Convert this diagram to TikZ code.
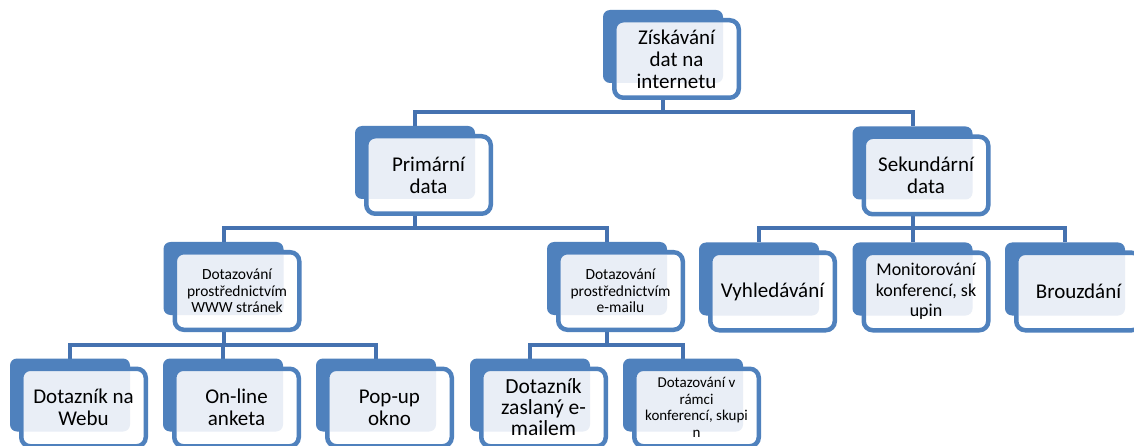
\documentclass[tikz,border=0pt]{standalone}
\usepackage{fontspec}
\setmainfont{Carlito}
\usepackage{tikz}
\usetikzlibrary{calc,backgrounds}
\definecolor{AzulCaja}{RGB}{79,129,189}
\definecolor{AzulLinea}{RGB}{69,114,176}
\definecolor{AzulClaro}{RGB}{233,238,246}
\newcommand{\bloque}[5]{%
  \node[fondo] (#1) at #2 {};
  \node[frente] (#1f) at ($(#1)+(13.5,12.5)$) {};
  \begin{scope}
    \clip[rounded corners=7pt] (#1.north west) rectangle (#1.south east);
    \fill[AzulClaro] ($(#1f.north west)+(2.25,2.25)$) rectangle (#1f.south east);
  \end{scope}
  \draw[borde] (#1f.north west) rectangle (#1f.south east);
  \node[texto,font=\fontsize{#3}{#4}\selectfont] (#1t) at (#1f) {#5};}

\begin{document}
\begin{tikzpicture}[x=1pt,y=-1pt,
  fondo/.style={fill=AzulCaja,rounded corners=7pt,minimum width=120pt,minimum height=73pt,inner sep=0pt,outer sep=0pt},
  frente/.style={fill=white,rounded corners=9pt,minimum width=124.5pt,minimum height=77.5pt,inner sep=0pt,outer sep=0pt},
  borde/.style={draw=AzulCaja,line width=4.5pt,rounded corners=9pt},
  texto/.style={align=center,inner sep=0pt,text=black},
  conector/.style={draw=AzulLinea,line width=4pt}]
  \useasboundingbox (0,0) rectangle (1134,446);
  \clip (0,0) rectangle (1134,446);
  \bloque{ziskavani}{(663,46.5)}{21}{22}{Získávání\\dat na\\internetu}
  \bloque{primarni}{(415,162.5)}{21}{22}{Primární\\data}
  \bloque{sekundarni}{(912.5,163)}{21}{22}{Sekundární\\data}
  \bloque{www}{(223.5,278.5)}{15.5}{16.5}{Dotazování\\prostřednictvím\\WWW stránek}
  \bloque{email}{(607,278.5)}{15.5}{16.5}{Dotazování\\prostřednictvím\\e-mailu}
  \bloque{vyhledavani}{(759,279)}{21}{22}{Vyhledávání}
  \bloque{monitorovani}{(912.5,279)}{18}{20.5}{Monitorování\\konferencí, sk\\upin}
  \bloque{brouzdani}{(1065,279)}{21}{22}{Brouzdání}
  \bloque{webu}{(70,395)}{21}{22}{Dotazník na\\Webu}
  \bloque{anketa}{(223,395)}{21}{22}{On-line\\anketa}
  \bloque{popup}{(376,395)}{21}{22}{Pop-up\\okno}
  \bloque{zaslany}{(530,395)}{21.5}{21}{Dotazník\\zaslaný e-\\mailem}
  \bloque{ramci}{(683,395)}{15}{16.5}{Dotazování v\\rámci\\konferencí, skupi\\n}
  \begin{scope}[on background layer]
    \fill[white] (0,0) rectangle (1134,446);
    \draw[conector] (ziskavani.south) -- ++(0,29) -| (primarni.north);
    \draw[conector] (ziskavani.south) -- ++(0,29) -| (sekundarni.north);
    \draw[conector] (primarni.south) -- ++(0,29) -| (www.north);
    \draw[conector] (primarni.south) -- ++(0,29) -| (email.north);
    \draw[conector] (sekundarni.south) -- ++(0,29) -| (vyhledavani.north);
    \draw[conector] (sekundarni.south) -- ++(0,29) -| (monitorovani.north);
    \draw[conector] (sekundarni.south) -- ++(0,29) -| (brouzdani.north);
    \draw[conector] (www.south) -- ++(0,30) -| (webu.north);
    \draw[conector] (www.south) -- ++(0,30) -| (anketa.north);
    \draw[conector] (www.south) -- ++(0,30) -| (popup.north);
    \draw[conector] (email.south) -- ++(0,30) -| (zaslany.north);
    \draw[conector] (email.south) -- ++(0,30) -| (ramci.north);
  \end{scope}
\end{tikzpicture}
\end{document}
